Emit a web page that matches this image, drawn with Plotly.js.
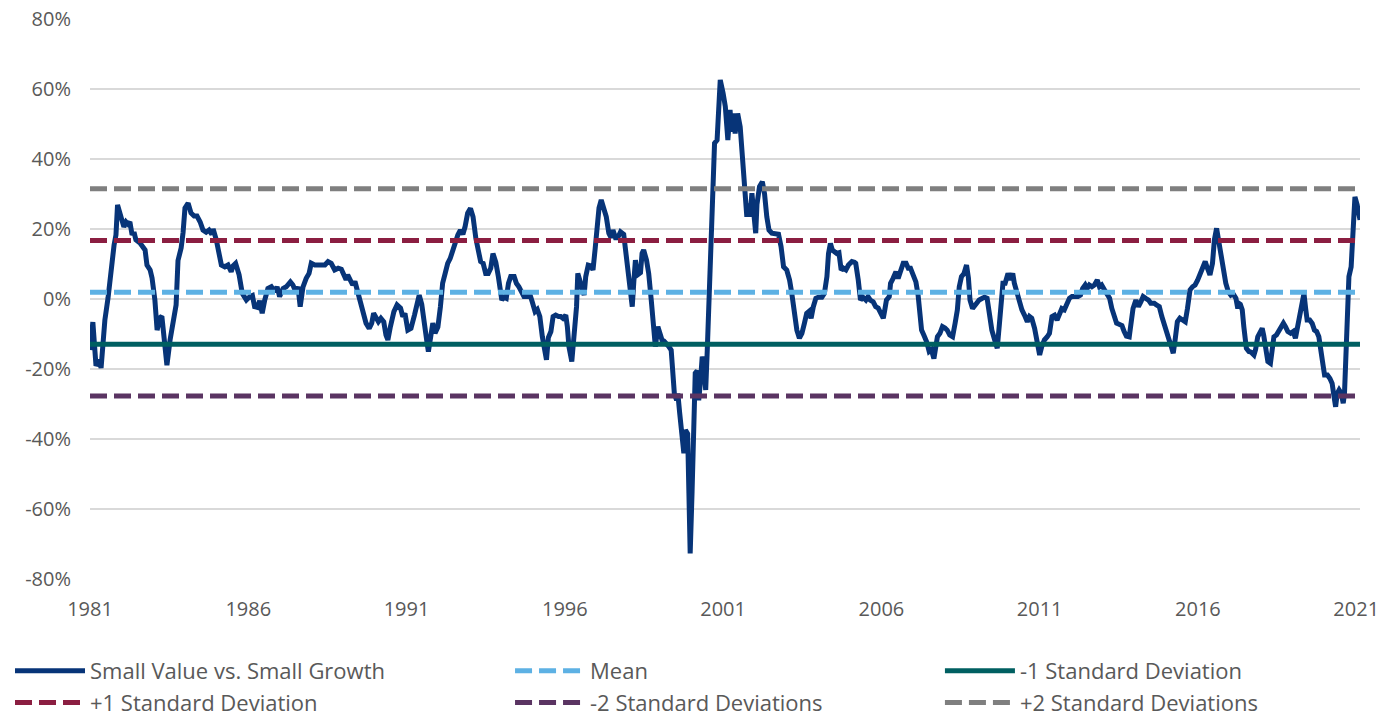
<!DOCTYPE html>
<html>
<head>
<meta charset="utf-8">
<script src="https://cdn.plot.ly/plotly-3.0.1.min.js"></script>
<style>
  html, body { margin: 0; padding: 0; background: #ffffff; }
  #chart { width: 1389px; height: 724px; }
</style>
</head>
<body>
<div id="chart"></div>
<script>
// ---- Data ----
const dateYears = [
  1981.00,1981.09,1981.19,1981.28,1981.35,1981.47,1981.57,1981.63,1981.70,1981.76,1981.82,1981.87,1981.95,
  1982.01,1982.07,1982.14,1982.20,1982.26,1982.33,1982.39,1982.45,1982.58,1982.67,1982.74,1982.80,1982.90,1982.96,
  1983.05,1983.12,1983.21,1983.27,1983.34,1983.43,1983.53,1983.62,1983.72,1983.78,1983.88,1983.94,
  1984.00,1984.10,1984.19,1984.29,1984.38,1984.48,1984.57,1984.67,1984.76,1984.85,1984.89,1984.99,
  1985.08,1985.15,1985.26,1985.36,1985.46,1985.52,1985.60,1985.71,1985.81,1985.94,
  1986.05,1986.13,1986.20,1986.29,1986.36,1986.44,1986.52,1986.62,1986.73,1986.84,1986.91,1986.99,
  1987.10,1987.20,1987.33,1987.41,1987.50,1987.57,1987.64,1987.73,1987.83,1987.92,1987.99,
  1988.10,1988.26,1988.42,1988.52,1988.62,1988.73,1988.84,1988.94,
  1989.02,1989.09,1989.14,1989.22,1989.30,1989.37,1989.44,1989.51,1989.62,1989.72,1989.82,1989.90,1989.96,
  1990.04,1990.11,1990.19,1990.28,1990.35,1990.41,1990.49,1990.60,1990.70,1990.81,1990.88,1990.95,
  1991.04,1991.14,1991.25,1991.33,1991.40,1991.48,1991.56,1991.65,1991.69,1991.75,1991.83,1991.90,1991.99,
  1992.07,1992.14,1992.22,1992.30,1992.38,1992.46,1992.53,1992.62,1992.70,1992.78,1992.85,1992.93,
  1993.02,1993.10,1993.19,1993.27,1993.34,1993.42,1993.50,1993.58,1993.66,1993.73,1993.82,1993.90,1993.98,
  1994.01,1994.08,1994.15,1994.22,1994.29,1994.40,1994.47,1994.55,1994.64,1994.71,1994.82,1994.89,1994.97,
  1995.06,1995.13,1995.21,1995.29,1995.38,1995.42,1995.48,1995.56,1995.63,1995.71,1995.80,1995.87,1995.94,
  1996.03,1996.08,1996.13,1996.22,1996.29,1996.37,1996.41,1996.47,1996.54,1996.61,1996.66,1996.74,1996.82,1996.89,1996.96,
  1997.03,1997.08,1997.15,1997.23,1997.31,1997.39,1997.46,1997.52,1997.60,1997.67,1997.76,1997.86,1997.95,
  1998.02,1998.07,1998.13,1998.18,1998.23,1998.30,1998.39,1998.44,1998.49,1998.58,1998.65,1998.73,1998.79,1998.86,1998.94,
  1999.00,1999.07,1999.13,1999.21,1999.28,1999.36,1999.42,1999.46,1999.53,1999.57,1999.63,1999.70,1999.76,1999.81,1999.88,1999.92,1999.96,
  2000.02,2000.07,2000.12,2000.18,2000.23,2000.28,2000.34,2000.39,2000.45,2000.50,2000.55,2000.60,2000.65,2000.73,2000.81,2000.86,2000.91,
  2001.00,2001.07,2001.15,2001.22,2001.27,2001.33,2001.38,2001.46,2001.54,2001.61,2001.67,2001.75,2001.80,2001.85,2001.91,2001.99,
  2002.03,2002.07,2002.15,2002.24,2002.31,2002.38,2002.45,2002.54,2002.64,2002.75,2002.83,2002.91,
  2003.01,2003.10,2003.17,2003.24,2003.33,2003.41,2003.49,2003.57,2003.64,2003.72,2003.78,2003.85,2003.93,
  2004.01,2004.12,2004.20,2004.28,2004.33,2004.39,2004.45,2004.52,2004.59,2004.66,2004.73,2004.80,2004.88,2004.96,
  2005.07,2005.15,2005.19,2005.27,2005.34,2005.42,2005.51,2005.58,2005.65,2005.74,2005.82,2005.90,2005.97,
  2006.06,2006.11,2006.16,2006.25,2006.29,2006.37,2006.46,2006.53,2006.61,2006.69,2006.78,2006.85,2006.92,
  2007.01,2007.09,2007.16,2007.22,2007.27,2007.34,2007.43,2007.51,2007.58,2007.66,2007.72,2007.77,2007.85,2007.93,
  2008.01,2008.08,2008.16,2008.25,2008.33,2008.40,2008.46,2008.53,2008.61,2008.69,2008.75,2008.80,2008.88,2008.99,
  2009.09,2009.19,2009.26,2009.34,2009.42,2009.49,2009.58,2009.66,2009.73,2009.78,2009.84,2009.91,
  2010.00,2010.08,2010.15,2010.20,2010.29,2010.36,2010.44,2010.52,2010.61,2010.68,2010.75,2010.84,2010.92,
  2011.00,2011.07,2011.15,2011.24,2011.31,2011.39,2011.47,2011.55,2011.63,2011.70,2011.78,2011.87,2011.94,
  2012.02,2012.10,2012.21,2012.29,2012.36,2012.44,2012.50,2012.57,2012.65,2012.73,2012.82,2012.89,2012.96,
  2013.05,2013.13,2013.21,2013.28,2013.35,2013.43,2013.51,2013.60,2013.67,2013.74,2013.83,2013.88,2013.95,
  2014.04,2014.12,2014.20,2014.27,2014.35,2014.44,2014.51,2014.62,2014.69,2014.78,2014.86,2014.93,
  2015.01,2015.09,2015.16,2015.22,2015.28,2015.35,2015.43,2015.51,2015.60,2015.67,2015.75,2015.83,2015.91,2015.99,
  2016.06,2016.14,2016.23,2016.30,2016.38,2016.46,2016.52,2016.59,2016.65,2016.73,2016.80,2016.88,2016.96,
  2017.04,2017.11,2017.20,2017.26,2017.29,2017.34,2017.40,2017.45,2017.53,2017.61,2017.68,2017.77,2017.82,2017.89,2017.96,
  2018.03,2018.08,2018.13,2018.21,2018.29,2018.35,2018.40,2018.48,2018.56,2018.63,2018.70,2018.77,2018.84,2018.93,
  2019.01,2019.08,2019.14,2019.22,2019.29,2019.35,2019.40,2019.45,2019.53,2019.61,2019.68,2019.75,2019.82,2019.89,2019.96,
  2020.00,2020.09,2020.17,2020.24,2020.30,2020.35,2020.40,2020.46,2020.53,2020.59,2020.63,2020.69,2020.77,2020.84,2020.90,2020.96,
  2021.03,2021.12
];

const smallValueVsGrowth = [
  -14.6,-6.6,-19.1,-17.4,-19.7,-6.0,0.3,4.0,10.6,15.4,18.3,26.9,24.6,
  22.0,20.6,22.0,21.4,22.0,18.3,19.1,16.9,16.0,14.6,14.0,9.7,8.3,6.0,
  -0.3,-8.9,-5.4,-4.9,-10.6,-18.9,-11.7,-7.4,-1.7,11.0,14.6,19.0,
  26.0,27.4,24.6,23.7,23.7,22.0,19.7,19.1,19.7,18.5,20.0,16.9,
  12.1,9.7,9.2,9.7,7.8,9.5,10.2,6.9,1.6,-0.3,
  0.7,1.0,-2.2,-2.4,-0.5,-4.1,-0.3,3.0,3.5,2.1,3.5,0.7,
  3.0,3.5,4.9,4.0,2.1,3.5,-2.2,3.5,5.9,7.3,10.2,
  9.7,9.7,9.7,10.7,10.2,8.3,8.8,8.5,
  6.4,5.5,6.9,5.5,4.0,5.0,2.6,-0.3,-3.6,-6.9,-8.4,-6.9,-4.1,
  -5.5,-6.5,-5.5,-6.5,-10.3,-11.7,-7.9,-3.6,-1.7,-2.6,-5.0,-4.1,
  -8.9,-8.4,-4.6,-0.8,1.1,-1.5,-7.9,-12.7,-15.0,-11.5,-6.9,-9.8,-8.0,
  -2.2,4.5,7.3,10.2,11.6,14.0,15.9,18.3,19.7,18.5,20.7,24.5,
  25.9,23.5,17.3,13.5,10.7,10.2,7.3,7.3,8.8,13.0,10.5,6.4,2.1,
  -0.3,0.5,0.2,4.5,6.4,6.4,4.5,3.5,2.1,0.7,0.7,1.5,-0.8,
  -3.6,-3.0,-5.0,-10.8,-15.5,-17.4,-11.0,-9.3,-5.0,-4.6,-5.0,-5.0,-5.5,
  -4.6,-7.9,-13.6,-17.9,-11.5,-2.2,7.3,5.0,2.6,1.1,6.4,9.7,9.5,8.3,14.5,
  21.6,26.0,28.3,26.4,23.5,18.8,17.5,19.7,17.5,17.5,19.2,18.5,12.1,
  5.4,1.6,-2.2,5.0,11.1,6.9,7.5,13.0,14.0,11.1,7.3,-0.3,-7.9,-13.6,-7.9,
  -10.0,-11.7,-12.0,-12.7,-13.5,-14.6,-23.1,-27.0,-28.9,-27.0,-32.7,-39.3,-44.1,-37.4,-38.5,-55.5,-72.7,
  -55.0,-31.7,-21.2,-20.5,-28.9,-24.1,-16.5,-18.0,-26.0,-14.6,-1.2,13.0,28.3,44.5,45.4,54.0,62.6,
  58.8,55.0,45.4,54.0,47.8,53.0,47.3,53.0,49.2,40.7,31.1,23.5,27.3,23.5,30.2,23.5,
  18.8,27.0,32.1,33.5,30.0,23.5,19.7,18.8,18.8,18.5,15.0,9.2,
  8.3,5.4,1.6,-4.1,-8.9,-11.2,-9.8,-6.9,-4.1,-3.5,-5.5,-2.2,0.2,
  0.5,0.5,1.6,6.4,13.0,15.9,14.0,13.5,13.0,13.2,8.3,8.8,8.3,9.7,
  10.7,10.5,10.2,5.4,-0.3,0.5,-0.3,0.7,-0.3,-0.8,-2.2,-2.6,-4.1,
  -5.5,-3.0,-0.3,0.7,4.5,5.9,7.8,5.9,7.8,10.2,10.2,8.8,8.8,
  6.9,4.9,1.1,-3.1,-8.9,-10.3,-12.2,-15.0,-14.5,-17.0,-14.5,-10.8,-9.8,-7.9,
  -8.3,-8.9,-10.3,-10.8,-6.9,-3.1,3.5,6.4,7.3,9.7,6.0,-0.3,-2.7,-1.5,
  -0.3,0.2,0.5,0.2,-5.0,-8.9,-11.7,-14.1,-7.0,1.1,4.5,4.5,
  7.3,5.5,7.3,4.5,1.1,-1.2,-3.1,-4.6,-6.5,-5.0,-5.5,-8.4,-11.7,
  -16.0,-13.5,-11.7,-10.8,-9.8,-5.0,-4.6,-6.0,-3.6,-2.7,-3.1,-1.2,0.2,
  0.7,0.7,0.7,1.1,3.0,4.0,3.0,4.0,3.5,4.0,5.4,3.5,4.0,
  2.6,1.1,0.2,-2.7,-5.0,-6.9,-7.2,-7.6,-9.3,-10.6,-10.8,-6.0,-2.7,
  -0.3,-2.2,-0.8,0.7,0.2,-0.3,-1.2,-1.2,-1.7,-2.2,-5.0,-7.4,
  -9.3,-11.7,-13.6,-15.5,-11.7,-6.5,-5.5,-6.0,-6.5,-2.7,2.6,3.5,4.0,5.4,
  6.9,8.8,10.7,8.8,6.9,10.2,16.9,20.2,16.9,11.1,7.3,4.5,2.1,
  1.1,1.5,0.2,-2.7,-1.2,-1.5,-3.1,-7.9,-14.1,-15.0,-15.2,-16.0,-14.5,-10.8,-9.3,
  -8.4,-10.5,-14.0,-17.9,-18.4,-15.0,-10.8,-10.3,-8.9,-8.0,-6.9,-8.0,-9.3,-9.8,
  -9.3,-11.2,-8.0,-4.1,-1.2,1.6,-2.5,-6.0,-6.0,-7.0,-8.9,-9.3,-10.8,-14.1,-19.3,
  -21.7,-21.7,-22.7,-24.1,-27.9,-30.8,-27.0,-26.0,-27.0,-29.8,-27.0,-13.6,6.4,9.2,20.7,29.2,
  26.9,22.6
];

const meanValue = 1.9;
const plusOneSD = 16.7;
const minusOneSD = -12.9;
const plusTwoSD = 31.5;
const minusTwoSD = -27.7;

const xTickYears = [1981, 1986, 1991, 1996, 2001, 2006, 2011, 2016, 2021];
const yTickValues = [-80, -60, -40, -20, 0, 20, 40, 60, 80];

const seriesNames = [
  'Small Value vs. Small Growth',
  'Mean',
  '-1 Standard Deviation',
  '+1 Standard Deviation',
  '-2 Standard Deviations',
  '+2 Standard Deviations'
];

// ---- Build traces ----
const xStart = dateYears[0];
const xEnd = dateYears[dateYears.length - 1];
const dashPattern = '17px,7px';

function flatLine(name, value, color, dash, legendId) {
  return {
    type: 'scatter', mode: 'lines', name: name,
    x: [xStart, xEnd], y: [value, value],
    line: { color: color, width: 5, dash: dash },
    legend: legendId,
    hoverinfo: 'skip'
  };
}

const traces = [
  {
    type: 'scatter', mode: 'lines', name: seriesNames[0],
    x: dateYears, y: smallValueVsGrowth,
    line: { color: '#073478', width: 5, shape: 'linear' },
    legend: 'legend',
    hoverinfo: 'skip'
  },
  flatLine(seriesNames[1], meanValue, '#5DB1E4', dashPattern, 'legend2'),
  flatLine(seriesNames[2], minusOneSD, '#005F61', 'solid', 'legend3'),
  flatLine(seriesNames[3], plusOneSD, '#8B1E41', dashPattern, 'legend'),
  flatLine(seriesNames[4], minusTwoSD, '#5A3462', dashPattern, 'legend2'),
  flatLine(seriesNames[5], plusTwoSD, '#7F7F7F', dashPattern, 'legend3')
];

const fontFamily = '"Open Sans", "Noto Sans", sans-serif';
const textColor = '#595959';

function legendAt(xFrac) {
  return {
    orientation: 'v',
    xref: 'container', x: xFrac, xanchor: 'left',
    yref: 'container', y: 0.0, yanchor: 'bottom',
    itemwidth: 70,
    tracegroupgap: 0,
    font: { family: fontFamily, size: 22, color: textColor },
    bgcolor: 'rgba(0,0,0,0)'
  };
}

const layout = {
  width: 1389, height: 724,
  margin: { l: 90, r: 29, t: 19, b: 145, autoexpand: false },
  paper_bgcolor: '#ffffff', plot_bgcolor: '#ffffff',
  font: { family: fontFamily, color: textColor, size: 20 },
  showlegend: true,
  xaxis: {
    type: 'linear',
    range: [xStart, xEnd],
    tickvals: xTickYears,
    ticktext: xTickYears.map(String),
    showgrid: false, zeroline: false, showline: false,
    ticks: '', ticklabelstandoff: 16,
    tickfont: { family: fontFamily, size: 20, color: textColor }
  },
  yaxis: {
    range: [-80, 80],
    tickvals: yTickValues,
    ticktext: yTickValues.map(v => v + '%'),
    showgrid: true, gridcolor: '#D9D9D9', gridwidth: 1.5,
    zeroline: false, showline: false,
    ticks: '', ticklabelstandoff: 18,
    tickfont: { family: fontFamily, size: 20, color: textColor }
  },
  shapes: [
    { type: 'line', xref: 'paper', x0: 0, x1: 1, yref: 'y', y0: 0, y1: 0,
      line: { color: '#ffffff', width: 3 }, layer: 'between' },
    { type: 'line', xref: 'paper', x0: 0, x1: 1, yref: 'y', y0: 0, y1: 0,
      line: { color: '#D9D9D9', width: 1.5, dash: '5px,3px' }, layer: 'between' }
  ],
  legend: legendAt(0.0072),
  legend2: legendAt(0.3672),
  legend3: legendAt(0.6767),
  hovermode: false
};

Plotly.newPlot('chart', traces, layout, { displayModeBar: false, staticPlot: true });
</script>
</body>
</html>
